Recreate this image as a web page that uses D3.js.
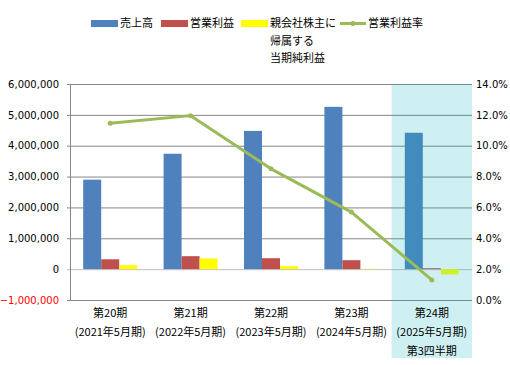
<!DOCTYPE html>
<html>
<head>
<meta charset="utf-8">
<script src="https://cdn.jsdelivr.net/npm/d3@7"></script>
<style>
  body { margin: 0; background: #fff; }
  svg text { font-family: "Noto Sans CJK JP", "DejaVu Sans", sans-serif; }
  .num text { font-family: "DejaVu Sans", sans-serif; font-size: 10px; }
</style>
</head>
<body>
<svg id="chart"></svg>
<script>
const periods = ["第20期", "第21期", "第22期", "第23期", "第24期"];
const fiscalYears = ["(2021年5月期)", "(2022年5月期)", "(2023年5月期)", "(2024年5月期)", "(2025年5月期)"];
const quarterNote = ["", "", "", "", "第3四半期"];

const sales = [2900000, 3740000, 4480000, 5260000, 4420000];
const operatingProfit = [320000, 420000, 355000, 290000, 30000];
const netProfit = [130000, 350000, 100000, 10000, -170000];
const operatingMargin = [11.45, 11.95, 8.5, 5.7, 1.3];

const leftTicks = [-1000000, 0, 1000000, 2000000, 3000000, 4000000, 5000000, 6000000];
const rightTicks = [0, 2, 4, 6, 8, 10, 12, 14];

const barSeries = [
  { key: "sales", name: "売上高", color: "#4F81BD", values: sales },
  { key: "op", name: "営業利益", color: "#C0504D", values: operatingProfit },
  { key: "net", name: "親会社株主に\n帰属する\n当期純利益", color: "#FFFF00", values: netProfit }
];
const lineName = "営業利益率";
const lineColor = "#9BBB59";

const width = 510, height = 365;
const plot = { left: 70, right: 472, top: 84, bottom: 300 };

const svg = d3.select("#chart").attr("width", width).attr("height", height);

const x = d3.scaleBand().domain(periods).range([plot.left, plot.right]).padding(0);
const xs = d3.scaleBand().domain(barSeries.map(d => d.key))
  .range([x.bandwidth() / 2 - 27, x.bandwidth() / 2 + 27]).padding(0);
const yL = d3.scaleLinear().domain([-1000000, 6000000]).range([plot.bottom, plot.top]);
const yR = d3.scaleLinear().domain([0, 14]).range([plot.bottom, plot.top]);

// gridlines
const grid = svg.append("g")
  .attr("transform", `translate(${plot.right},0)`)
  .call(d3.axisLeft(yL).tickValues(leftTicks).tickFormat(""));
grid.select(".domain").remove();
grid.selectAll(".tick line")
  .attr("x1", 0).attr("x2", -(plot.right - plot.left) - 3)
  .attr("stroke", d => d === 0 ? "#BFBFBF" : "#868686");

// bars
svg.append("g").selectAll("g")
  .data(barSeries)
  .join("g")
  .attr("fill", s => s.color)
  .selectAll("rect")
  .data(s => s.values.map((v, i) => ({ key: s.key, v, p: periods[i] })))
  .join("rect")
  .attr("x", d => x(d.p) + xs(d.key))
  .attr("width", xs.bandwidth())
  .attr("y", d => yL(Math.max(0, d.v)))
  .attr("height", d => Math.abs(yL(d.v) - yL(0)));

// highlight for latest period
svg.append("rect")
  .attr("x", x(periods[4]))
  .attr("y", plot.top)
  .attr("width", x.bandwidth())
  .attr("height", 358 - plot.top)
  .attr("fill", "rgb(15,180,190)")
  .attr("fill-opacity", 0.2);

// left axis
const axL = svg.append("g")
  .attr("class", "num")
  .attr("transform", `translate(${plot.left},0)`)
  .call(d3.axisLeft(yL).tickValues(leftTicks).tickSize(0).tickSizeOuter(0).tickPadding(11)
    .tickFormat(d3.format(",")));
axL.select(".domain").attr("stroke", "#868686");
axL.selectAll(".tick text").style("fill", d => d < 0 ? "#FF0000" : "#000");

// right axis
const axR = svg.append("g")
  .attr("class", "num")
  .attr("transform", `translate(${plot.right},0)`)
  .call(d3.axisRight(yR).tickValues(rightTicks).tickSize(0).tickPadding(4)
    .tickFormat(d => d.toFixed(1) + "%"));
axR.select(".domain").remove();
axR.selectAll(".tick text").style("fill", "#000");

// line
const line = d3.line()
  .x((d, i) => x(periods[i]) + x.bandwidth() / 2)
  .y(d => yR(d));
svg.append("path")
  .datum(operatingMargin)
  .attr("fill", "none")
  .attr("stroke", lineColor)
  .attr("stroke-width", 3)
  .attr("stroke-linejoin", "round")
  .attr("d", line);
svg.append("g").selectAll("circle")
  .data(operatingMargin)
  .join("circle")
  .attr("cx", (d, i) => x(periods[i]) + x.bandwidth() / 2)
  .attr("cy", d => yR(d))
  .attr("r", 2.5)
  .attr("fill", lineColor);

// category labels
const xl = svg.append("g").attr("font-size", 11).attr("text-anchor", "middle").attr("fill", "#000");
[periods, fiscalYears, quarterNote].forEach((arr, row) => {
  xl.append("g").selectAll("text")
    .data(arr)
    .join("text")
    .attr("x", (d, i) => x(periods[i]) + x.bandwidth() / 2)
    .attr("y", 317 + row * 19)
    .text(d => d);
});

// legend
const legend = svg.append("g").attr("font-size", 11);
const legendX = [91, 161, 241];
barSeries.forEach((s, i) => {
  const g = legend.append("g").attr("transform", `translate(${legendX[i]},0)`);
  g.append("rect").attr("x", 0).attr("y", 20).attr("width", 27).attr("height", 7).attr("fill", s.color);
  g.selectAll("text")
    .data(s.name.split("\n"))
    .join("text")
    .attr("x", 29)
    .attr("y", (d, j) => 27 + j * 17.5)
    .text(d => d);
});
const lg = legend.append("g").attr("transform", "translate(340,0)");
lg.append("line").attr("x1", 0).attr("x2", 26).attr("y1", 23.5).attr("y2", 23.5)
  .attr("stroke", lineColor).attr("stroke-width", 3);
lg.append("circle").attr("cx", 13).attr("cy", 23.5).attr("r", 2.5).attr("fill", lineColor);
lg.append("text").attr("x", 28).attr("y", 27).text(lineName);
</script>
</body>
</html>
